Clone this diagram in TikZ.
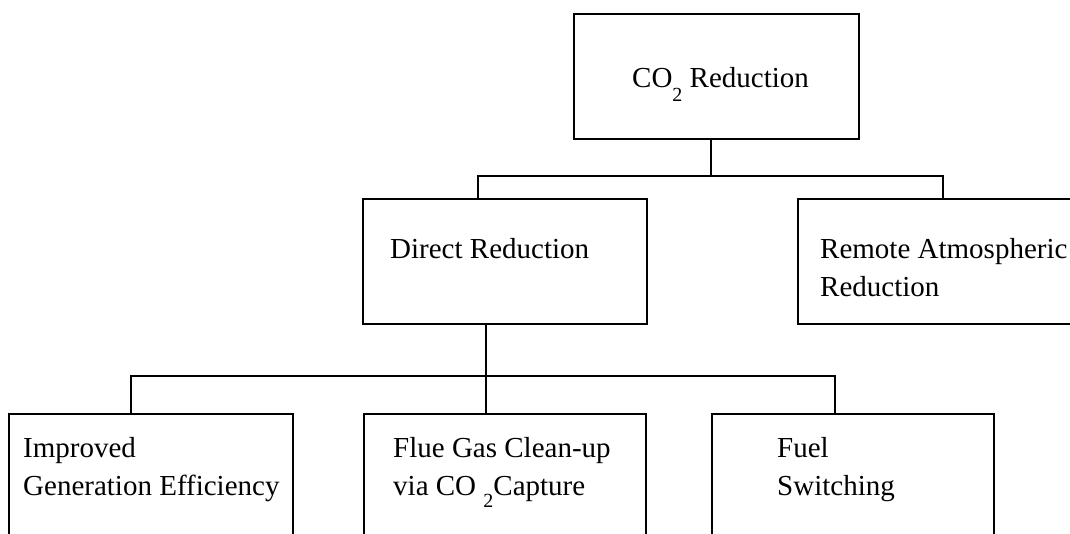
\documentclass[tikz,border=0pt]{standalone}
\usepackage{fontspec}
\setmainfont{Liberation Serif}
\newcommand{\subtwo}[1]{\raisebox{#1}{\fontsize{20}{20}\selectfont 2}}
\begin{document}
\begin{tikzpicture}[x=1pt,y=-1pt,
  box/.style={draw, line width=1.7pt, rectangle, inner sep=0pt, anchor=north west},
  conn/.style={line width=1.3pt},
  lbl/.style={anchor=base west, inner sep=0pt, font=\fontsize{29}{38}\selectfont}]
\path[use as bounding box, clip] (0,0) rectangle (1070,533);
\fill[white] (0,0) rectangle (1070,533);
% boxes
\node[box, minimum width=285pt, minimum height=125pt] (co2) at (573,13) {};
\node[box, minimum width=284pt, minimum height=125pt] (direct) at (362,198) {};
\node[box, minimum width=290pt, minimum height=125pt] (remote) at (797,198) {};
\node[box, minimum width=284pt, minimum height=140pt] (improved) at (8,413) {};
\node[box, minimum width=282pt, minimum height=140pt] (flue) at (363,413) {};
\node[box, minimum width=282pt, minimum height=140pt] (fuel) at (711,413) {};
% junctions
\coordinate (j1) at (711,176);
\coordinate (j1L) at (478,176);
\coordinate (j1R) at (943,176);
\coordinate (j2) at (486,376);
\coordinate (j2L) at (131,376);
\coordinate (j2R) at (835,376);
% connectors
\draw[conn] (co2.south -| j1) -- (j1);
\draw[conn] (direct.north -| j1L) -- (j1L) -- (j1R) -- (remote.north -| j1R);
\draw[conn] (direct.south -| j2) -- (flue.north -| j2);
\draw[conn] (improved.north -| j2L) -- (j2L) -- (j2R) -- (fuel.north -| j2R);
% labels
\node[lbl] (t0) at (632,87) {CO\subtwo{-0.5em} Reduction};
\node[lbl] (t1) at (390,258) {Direct Reduction};
\node[lbl] (t2) at (820,258) {\begin{tabular}[t]{@{}l@{}}Remote Atmospheric\\Reduction\end{tabular}};
\node[lbl] (t3) at (23,457) {\begin{tabular}[t]{@{}l@{}}Improved\\Generation Efficiency\end{tabular}};
\node[lbl] (t4) at (393,457) {\begin{tabular}[t]{@{}l@{}}Flue Gas Clean-up\\via CO \subtwo{-0.42em}Capture\end{tabular}};
\node[lbl] (t5) at (777,457) {\begin{tabular}[t]{@{}l@{}}Fuel\\Switching\end{tabular}};
\end{tikzpicture}
\end{document}
